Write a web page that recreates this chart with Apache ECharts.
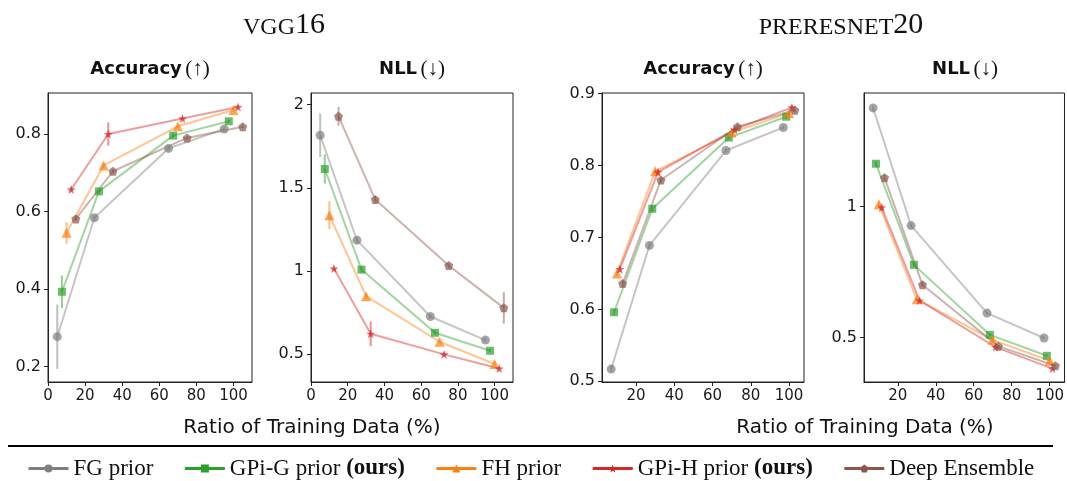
<!DOCTYPE html>
<html>
<head>
<meta charset="utf-8">
<script src="https://cdn.jsdelivr.net/npm/echarts@6/dist/echarts.min.js"></script>
<style>
  html, body { margin: 0; padding: 0; background: #fff; }
  #chart { width: 1067px; height: 481px; }
</style>
</head>
<body>
<div id="chart"></div>
<script>
// ---- data ----
const models = ['FG prior', 'GPi-G prior (ours)', 'FH prior', 'GPi-H prior (ours)', 'Deep Ensemble'];
const ratios = [10, 30, 70, 100];           // % of training data
const vggOffsets = [-5, -2.5, 0, 2.5, 5];    // horizontal dodge per model
const resOffsets = [-3, -1.5, 0, 1.5, 3];

// VGG16 accuracy (rows follow `models`)
const vggAcc = [
  [0.277, 0.584, 0.763, 0.813],
  [0.393, 0.652, 0.796, 0.833],
  [0.545, 0.719, 0.820, 0.862],
  [0.657, 0.800, 0.840, 0.870],
  [0.581, 0.704, 0.790, 0.819]
];
const vggAccErr = [
  [0.083, 0.006, 0.006, 0.006],
  [0.042, 0.006, 0.005, 0.004],
  [0.028, 0.006, 0.004, 0.004],
  [0.005, 0.030, 0.004, 0.004],
  [0.005, 0.005, 0.004, 0.004]
];
// VGG16 NLL
const vggNll = [
  [1.816, 1.185, 0.726, 0.584],
  [1.613, 1.008, 0.628, 0.520],
  [1.335, 0.848, 0.574, 0.440],
  [1.014, 0.622, 0.498, 0.413],
  [1.930, 1.429, 1.032, 0.778]
];
const vggNllErr = [
  [0.130, 0.020, 0.015, 0.015],
  [0.088, 0.020, 0.015, 0.010],
  [0.085, 0.015, 0.010, 0.010],
  [0.010, 0.074, 0.010, 0.010],
  [0.056, 0.020, 0.015, 0.094]
];
// PreResNet20 accuracy
const resAcc = [
  [0.517, 0.689, 0.821, 0.853],
  [0.596, 0.740, 0.839, 0.868],
  [0.650, 0.792, 0.846, 0.873],
  [0.656, 0.791, 0.850, 0.881],
  [0.636, 0.780, 0.854, 0.877]
];
const resAccErr = [
  [0.004, 0.004, 0.003, 0.003],
  [0.004, 0.004, 0.003, 0.003],
  [0.004, 0.004, 0.003, 0.003],
  [0.004, 0.004, 0.003, 0.003],
  [0.004, 0.004, 0.003, 0.003]
];
// PreResNet20 NLL
const resNll = [
  [1.376, 0.927, 0.593, 0.498],
  [1.163, 0.777, 0.510, 0.430],
  [1.008, 0.646, 0.491, 0.411],
  [0.996, 0.641, 0.463, 0.381],
  [1.110, 0.701, 0.466, 0.392]
];
const resNllErr = [
  [0.010, 0.008, 0.006, 0.005],
  [0.010, 0.008, 0.006, 0.005],
  [0.010, 0.008, 0.006, 0.005],
  [0.010, 0.008, 0.006, 0.005],
  [0.010, 0.008, 0.006, 0.005]
];

// tick labels
const xTicksVgg = [0, 20, 40, 60, 80, 100];
const xTicksRes = [20, 40, 60, 80, 100];
const yTicksVggAcc = [0.2, 0.4, 0.6, 0.8];
const yTicksVggNll = [0.5, 1, 1.5, 2];
const yTicksResAcc = [0.5, 0.6, 0.7, 0.8, 0.9];
const yTicksResNll = [0.5, 1];

// ---- styling ----
const colors = ['#7f7f7f', '#2ca02c', '#ff7f0e', '#d62728', '#8c564b'];
const STAR = 'path://M0,-10L2.35,-3.24L9.51,-3.09L3.8,1.24L5.88,8.09L0,4L-5.88,8.09L-3.8,1.24L-9.51,-3.09L-2.35,-3.24Z';
const PENTAGON = 'path://M0,-10L9.51,-3.09L5.88,8.09L-5.88,8.09L-9.51,-3.09Z';
const symbols = ['circle', 'rect', 'triangle', STAR, PENTAGON];
const symbolSizes = [9, 8, 10, 9, 9];

const SANS = 'DejaVu Sans';
const SERIF = 'Liberation Serif';

const panels = [
  { box: [48, 93, 204, 289], x: [0, 110], y: [0.16, 0.906], xt: xTicksVgg, yt: yTicksVggAcc, v: vggAcc, e: vggAccErr, off: vggOffsets, title: ['Accuracy', '(↑)'] },
  { box: [311, 93, 202, 289], x: [0, 110], y: [0.332, 2.07], xt: xTicksVgg, yt: yTicksVggNll, v: vggNll, e: vggNllErr, off: vggOffsets, title: ['NLL', '(↓)'] },
  { box: [602, 93, 202, 289], x: [2.2, 107.8], y: [0.499, 0.901], xt: xTicksRes, yt: yTicksResAcc, v: resAcc, e: resAccErr, off: resOffsets, title: ['Accuracy', '(↑)'] },
  { box: [864, 93, 202, 289], x: [2.2, 107.8], y: [0.330, 1.433], xt: xTicksRes, yt: yTicksResNll, v: resNll, e: resNllErr, off: resOffsets, title: ['NLL', '(↓)'] }
];

const grid = [], xAxis = [], yAxis = [], series = [], graphic = [];

panels.forEach((p, pi) => {
  grid.push({
    left: p.box[0], top: p.box[1], width: p.box[2], height: p.box[3],
    show: true, borderColor: '#222', borderWidth: 1, backgroundColor: 'transparent'
  });
  xAxis.push({
    type: 'value', gridIndex: pi, min: p.x[0], max: p.x[1],
    axisLine: { show: true, onZero: false, lineStyle: { color: '#222', width: 1 } },
    axisTick: { show: true, length: 4, customValues: p.xt, lineStyle: { color: '#222' } },
    axisLabel: { customValues: p.xt, margin: 7, fontFamily: SANS, fontSize: 15, color: '#1a1a1a' },
    splitLine: { show: false }
  });
  yAxis.push({
    type: 'value', gridIndex: pi, min: p.y[0], max: p.y[1],
    axisLine: { show: true, onZero: false, lineStyle: { color: '#222', width: 1 } },
    axisTick: { show: true, length: 4, customValues: p.yt, lineStyle: { color: '#222' } },
    axisLabel: { customValues: p.yt, margin: 7, fontFamily: SANS, fontSize: 16, color: '#1a1a1a' },
    splitLine: { show: false }
  });

  // error bars, drawn beneath the lines and markers
  models.forEach((m, mi) => {
    series.push({
      type: 'custom', name: m + ' error', xAxisIndex: pi, yAxisIndex: pi, z: 1,
      silent: true,
      data: ratios.map((r, k) => [r + p.off[mi], p.v[mi][k], p.e[mi][k]]),
      encode: { x: 0, y: 1 },
      renderItem: (params, api) => {
        const x = api.value(0), y = api.value(1), e = api.value(2);
        const a = api.coord([x, y + e]);
        const b = api.coord([x, y - e]);
        return {
          type: 'line',
          shape: { x1: a[0], y1: a[1], x2: b[0], y2: b[1] },
          style: { stroke: colors[mi], lineWidth: 2, opacity: 0.5 }
        };
      }
    });
  });
});

// lines with markers
panels.forEach((p, pi) => {
  models.forEach((m, mi) => {
    series.push({
      type: 'line', name: m, xAxisIndex: pi, yAxisIndex: pi, z: 2,
      data: ratios.map((r, k) => [r + p.off[mi], p.v[mi][k]]),
      symbol: symbols[mi], symbolSize: symbolSizes[mi],
      showAllSymbol: true,
      lineStyle: { color: colors[mi], width: 2, opacity: 0.45 },
      itemStyle: { color: colors[mi], opacity: 0.7, borderWidth: 0 },
      emphasis: { disabled: true },
      animation: false
    });
  });

  // panel title: bold sans word, serif arrow
  graphic.push({
    type: 'text',
    x: p.box[0] + p.box[2] / 2, y: 69,
    style: {
      text: '{b|' + p.title[0] + '} {s|' + p.title[1] + '}',
      align: 'center', verticalAlign: 'middle',
      rich: {
        b: { fontFamily: SANS, fontWeight: 'bold', fontSize: 18, fill: '#111' },
        s: { fontFamily: SERIF, fontSize: 21, fill: '#111' }
      }
    }
  });
});

// architecture headings (small caps emulated with rich text)
[['VGG', '16', 284], ['PRERESNET', '20', 841]].forEach(([caps, num, cx]) => {
  graphic.push({
    type: 'text', x: cx, y: 25,
    style: {
      text: '{c|' + caps + '}{n|' + num + '}',
      align: 'center', verticalAlign: 'middle',
      rich: {
        c: { fontFamily: SERIF, fontSize: 24, fill: '#111', verticalAlign: 'bottom' },
        n: { fontFamily: SERIF, fontSize: 30, fill: '#111', verticalAlign: 'bottom' }
      }
    }
  });
});

// shared x-axis names
[312, 865].forEach(cx => {
  graphic.push({
    type: 'text', x: cx, y: 428,
    style: {
      text: 'Ratio of Training Data (%)',
      align: 'center', verticalAlign: 'middle',
      fontFamily: SANS, fontSize: 20, fill: '#111'
    }
  });
});

// rule above the legend
graphic.push({
  type: 'line',
  shape: { x1: 8, y1: 446, x2: 1053, y2: 446 },
  style: { stroke: '#000', lineWidth: 2 }
});

const chart = echarts.init(document.getElementById('chart'), null, { renderer: 'canvas' });
chart.setOption({
  animation: false,
  color: colors,
  grid, xAxis, yAxis, series, graphic,
  legend: {
    data: models,
    left: 22, top: 452,
    itemWidth: 40, itemHeight: 10, itemGap: 30,
    selectedMode: false,
    lineStyle: { opacity: 1, width: 3 },
    itemStyle: { opacity: 1 },
    textStyle: {
      fontFamily: SERIF, fontSize: 23, color: '#111',
      rich: { b: { fontFamily: SERIF, fontSize: 23, fontWeight: 'bold', color: '#111' } }
    },
    formatter: name => name.replace('(ours)', '{b|(ours)}')
  }
});
</script>
</body>
</html>
